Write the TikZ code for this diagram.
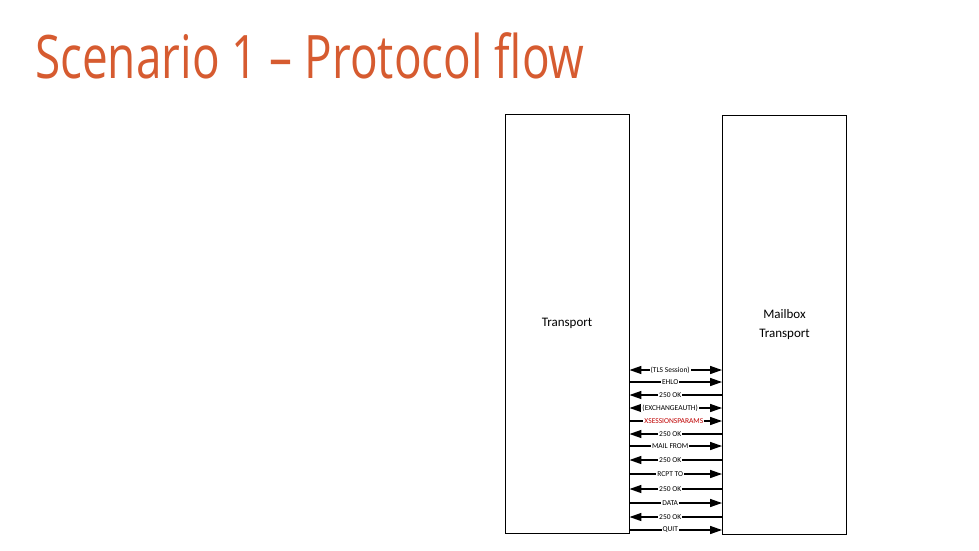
\documentclass[tikz,border=0pt]{standalone}
\usepackage{fontspec}
\setmainfont{Carlito}
\newfontfamily\titlefont[FakeStretch=0.765]{Open Sans}
\usetikzlibrary{arrows.meta}
\definecolor{titleorange}{HTML}{D65B30}
\definecolor{darkred}{HTML}{C00000}

\begin{document}
\begin{tikzpicture}[x=1pt,y=-1pt, >={Triangle[length=12pt,width=8pt]},
    server/.style={draw, line width=0.9pt, minimum width=124pt, minimum height=419pt,
        align=center, font=\fontsize{13}{19}\selectfont, inner sep=0pt},
    msg/.style={line width=1.4pt},
    lbl/.style={fill=white, inner sep=1pt, font=\fontsize{7.5}{8}\selectfont}]
\useasboundingbox (0,0) rectangle (979,551);
\node[anchor=base west, text=titleorange, font=\titlefont\fontsize{60}{70}\selectfont, inner sep=0pt]
    (title) at (35,78) {Scenario 1 \textendash{} Protocol flow};
\node[server] (trans) at (567,323.5) {Transport};
\node[server] (mbx) at (784.5,324.5) {Mailbox\\Transport};
% messages between the two transports
\foreach \y/\dir/\t in {370/<->/(TLS Session), 382/->/EHLO, 395/<-/250 OK,
    408/<->/(EXCHANGEAUTH), 434/<-/250 OK, 446/->/MAIL FROM, 460/<-/250 OK,
    474/->/RCPT TO, 489/<-/250 OK, 503/->/DATA, 517/<-/250 OK, 530/->/QUIT}
    \draw[msg, \dir] (trans.east |- 0,\y) -- node[lbl, pos=0.44] {\t} (mbx.west |- 0,\y);
\draw[msg, ->] (trans.east |- 0,421) -- node[lbl, pos=0.48, text=darkred] {XSESSIONSPARAMS} (mbx.west |- 0,421);
\end{tikzpicture}
\end{document}
